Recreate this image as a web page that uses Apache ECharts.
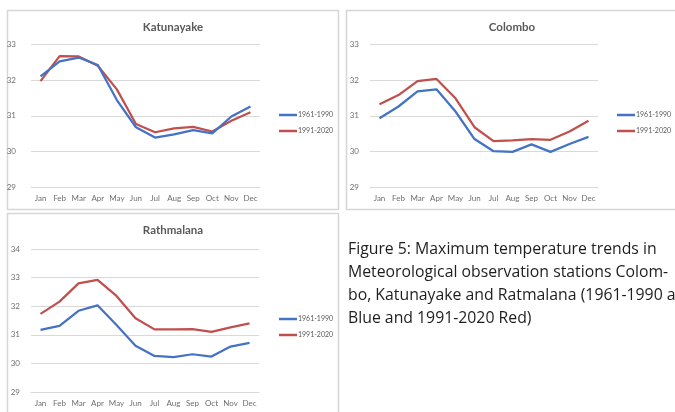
<!DOCTYPE html>
<html>
<head>
<meta charset="utf-8">
<script src="https://cdn.jsdelivr.net/npm/echarts@6/dist/echarts.min.js"></script>
<style>
  html, body { margin: 0; padding: 0; background: #ffffff; }
  #chart { width: 675px; height: 412px; }
</style>
</head>
<body>
<div id="chart"></div>
<script>
// Monthly mean maximum temperature (°C) per station
const months = ['Jan', 'Feb', 'Mar', 'Apr', 'May', 'Jun', 'Jul', 'Aug', 'Sep', 'Oct', 'Nov', 'Dec'];
const periods = ['1961-1990', '1991-2020'];

const katunayake1961 = [32.10, 32.52, 32.63, 32.42, 31.44, 30.68, 30.39, 30.48, 30.60, 30.51, 30.98, 31.26];
const katunayake1991 = [31.97, 32.67, 32.66, 32.40, 31.74, 30.77, 30.54, 30.65, 30.69, 30.56, 30.86, 31.10];

const colombo1961 = [30.93, 31.26, 31.68, 31.74, 31.12, 30.35, 30.01, 29.99, 30.20, 29.99, 30.21, 30.41];
const colombo1991 = [31.32, 31.58, 31.97, 32.03, 31.49, 30.68, 30.29, 30.31, 30.35, 30.33, 30.56, 30.86];

const rathmalana1961 = [31.17, 31.31, 31.84, 32.03, 31.34, 30.62, 30.26, 30.22, 30.32, 30.24, 30.59, 30.72];
const rathmalana1991 = [31.73, 32.16, 32.80, 32.92, 32.36, 31.58, 31.19, 31.19, 31.20, 31.10, 31.26, 31.40];

const stationNames = ['Katunayake', 'Colombo', 'Rathmalana'];
const captionLines = [
  'Figure 5: Maximum temperature trends in',
  'Meteorological observation stations Colom-',
  'bo, Katunayake and Ratmalana (1961-1990 as',
  'Blue and 1991-2020 Red)'
];

const FONT = 'Lato, "Liberation Sans", sans-serif';
const CAPTION_FONT = '"Open Sans", Lato, sans-serif';
const BLUE = '#4472C4';
const RED = '#C0504D';
const GREY_TEXT = '#6f6f6f';

// Panel frames and plot areas
const panels = [
  { box: [7.5, 10.5, 331, 199], grid: { left: 31, top: 44.3, width: 229, height: 143 }, yMin: 29, yMax: 33, labelMargin: 15, legend: { left: 274, top: 104 } },
  { box: [346.5, 10.5, 340, 199], grid: { left: 370, top: 44.3, width: 228, height: 143 }, yMin: 29, yMax: 33, labelMargin: 11, legend: { left: 612, top: 104 } },
  { box: [7.5, 213.5, 331, 220], grid: { left: 31, top: 249, width: 228, height: 143 }, yMin: 29, yMax: 34, labelMargin: 11, legend: { left: 274, top: 308 } }
];
const titleCenters = [[173, 27], [512, 27], [173, 230]];
const seriesData = [
  [katunayake1961, katunayake1991],
  [colombo1961, colombo1991],
  [rathmalana1961, rathmalana1991]
];

const grid = [], xAxis = [], yAxis = [], series = [], legend = [], graphic = [];

panels.forEach((p, i) => {
  graphic.push({
    type: 'rect', silent: true, z: -1,
    shape: { x: p.box[0], y: p.box[1], width: p.box[2], height: p.box[3] },
    style: { fill: '#ffffff', stroke: '#d6d6d6', lineWidth: 1.5 }
  });
  graphic.push({
    type: 'text', silent: true,
    x: titleCenters[i][0], y: titleCenters[i][1],
    style: {
      text: stationNames[i], fill: '#595959', font: 'bold 11.5px ' + FONT,
      textAlign: 'center', textVerticalAlign: 'middle'
    }
  });
  grid.push(Object.assign({ containLabel: false }, p.grid));
  xAxis.push({
    type: 'category', gridIndex: i, data: months, boundaryGap: true,
    axisLine: { show: true, lineStyle: { color: '#d9d9d9', width: 1 } },
    axisTick: { show: false },
    axisLabel: { color: GREY_TEXT, fontSize: 8, fontFamily: FONT, margin: 7, interval: 0 }
  });
  yAxis.push({
    type: 'value', gridIndex: i, min: p.yMin, max: p.yMax, interval: 1,
    axisLine: { show: false }, axisTick: { show: false },
    splitLine: { lineStyle: { color: '#d9d9d9', width: 1 } },
    axisLabel: { color: GREY_TEXT, fontSize: 8, fontFamily: FONT, margin: p.labelMargin }
  });
  [BLUE, RED].forEach((c, k) => {
    series.push({
      name: periods[k], type: 'line', xAxisIndex: i, yAxisIndex: i,
      data: seriesData[i][k], showSymbol: false, symbol: 'none',
      lineStyle: { color: c, width: 2.25 }, itemStyle: { color: c },
      animation: false, z: k === 0 ? 3 : 2
    });
  });
  legend.push({
    orient: 'vertical', left: p.legend.left, top: p.legend.top,
    data: periods.map((n, k) => ({ name: n, icon: 'rect', itemStyle: { color: k === 0 ? BLUE : RED } })),
    itemWidth: 18, itemHeight: 2.5, itemGap: 4,
    textStyle: { color: '#595959', fontSize: 7, fontFamily: FONT, padding: [0, 0, 0, -4], lineHeight: 12 },
    selectedMode: false
  });
});

// Figure caption
captionLines.forEach((line, j) => {
  graphic.push({
    type: 'text', silent: true, x: 348, y: 249 + j * 23,
    style: { text: line, fill: '#1e1e1e', font: '15.8px ' + CAPTION_FONT, textVerticalAlign: 'middle' }
  });
});

const chart = echarts.init(document.getElementById('chart'), null, { renderer: 'canvas' });
chart.setOption({
  backgroundColor: '#ffffff',
  animation: false,
  grid, xAxis, yAxis, series, legend, graphic
});
</script>
</body>
</html>
